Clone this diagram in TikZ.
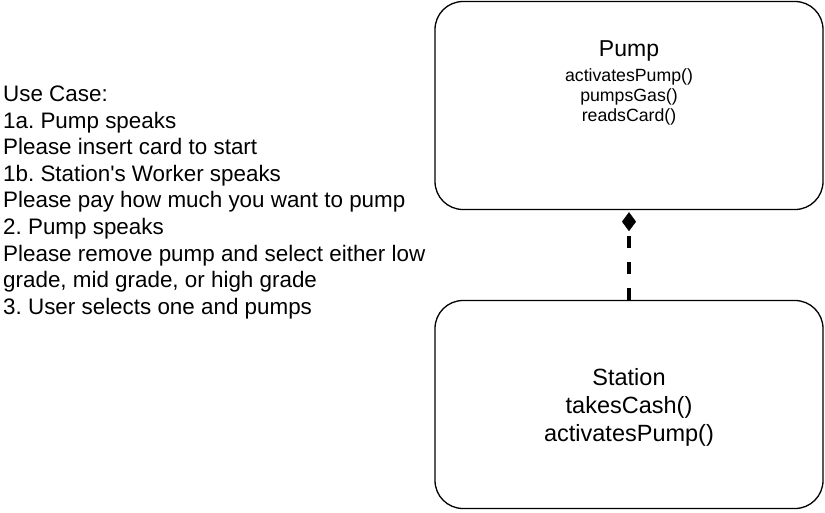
\documentclass[tikz,border=0pt]{standalone}
\usepackage{fontspec}
\setmainfont{Liberation Sans}
\newfontfamily\plainapos{Liberation Sans}
\usetikzlibrary{arrows.meta}
\frenchspacing
\tikzset{
  classbox/.style={draw=black, line width=1.3pt, rounded corners=28pt,
    minimum width=388pt, minimum height=208pt, inner sep=0pt},
  titletext/.style={anchor=north, inner sep=0pt, align=center,
    font=\fontsize{23}{28}\selectfont},
  opstext/.style={anchor=north, inner sep=0pt, align=center,
    font=\fontsize{17.7}{20}\selectfont},
  stationtext/.style={anchor=north, inner sep=0pt, align=center,
    font=\fontsize{23.5}{28.3}\selectfont},
  notetext/.style={anchor=north west, inner sep=0pt, align=left,
    font=\fontsize{22.4}{26.6}\selectfont},
  composition/.style={line width=4pt, dash pattern=on 12pt off 14pt,
    -{Diamond[length=19pt, width=14pt, line width=0.5pt, fill=black]},
    shorten >=2pt}
}
\begin{document}
\begin{tikzpicture}[x=1pt, y=-1pt]
\useasboundingbox (0,0) rectangle (825,512);
% boxes
\node[classbox] (pump) at (629,105.5) {};
\node[classbox] (station) at (629,404.5) {};
% pump text
\node[titletext] (pumpname) at (629,40.5) {Pump};
\node[opstext] (pumpops) at (629,68.8) {activatesPump()\\pumpsGas()\\readsCard()};
% station text
\node[stationtext] (stationtxt) at (629,368) {Station\\takesCash()\\activatesPump()};
% use case text
\node[notetext] (usecase) at (3,85.6) {Use Case:\\1a. Pump speaks\\Please insert card to start\\1b. Station{\plainapos'}s Worker speaks\\Please pay how much you want to pump\\2. Pump speaks\\Please remove pump and select either low\\grade, mid grade, or high grade\\3. User selects one and pumps};
% connector
\draw[composition] (station.north) -- (pump.south);
\end{tikzpicture}
\end{document}
